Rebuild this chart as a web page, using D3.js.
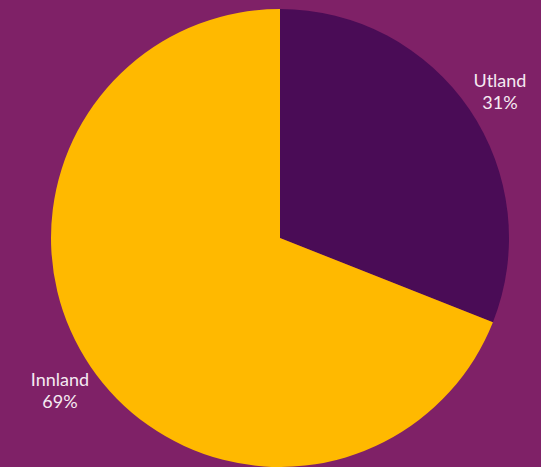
<!DOCTYPE html>
<html>
<head>
<meta charset="utf-8">
<script src="https://cdn.jsdelivr.net/npm/d3@7"></script>
<style>
  html, body { margin: 0; padding: 0; background: #7f2167; }
  svg { display: block; }
</style>
</head>
<body>
<svg id="chart" width="541" height="467"></svg>
<script>
const categories = ["Utland", "Innland"];
const shares = [31, 69];
const colors = ["#4a0c56", "#ffb900"];

const svg = d3.select("#chart");
const width = +svg.attr("width");
const height = +svg.attr("height");

svg.append("rect")
    .attr("width", width)
    .attr("height", height)
    .attr("fill", "#7f2167");

const cx = 280, cy = 238, radius = 229;
const data = categories.map((c, i) => ({ name: c, value: shares[i], color: colors[i] }));

const pie = d3.pie().sort(null).value(d => d.value);
const arc = d3.arc().innerRadius(0).outerRadius(radius);
const labelArc = d3.arc().innerRadius(266).outerRadius(266);

const g = svg.append("g").attr("transform", `translate(${cx},${cy})`);

const arcs = pie(data);

g.selectAll("path")
    .data(arcs)
    .enter()
    .append("path")
    .attr("d", arc)
    .attr("fill", d => d.data.color);

const labels = g.selectAll(".label")
    .data(arcs)
    .enter()
    .append("text")
    .attr("class", "label")
    .attr("transform", d => `translate(${labelArc.centroid(d)})`)
    .attr("text-anchor", "middle")
    .attr("font-family", "Lato, sans-serif")
    .attr("font-size", "18px")
    .attr("fill", "#f5eaf2");

labels.append("tspan")
    .attr("x", 0)
    .attr("dy", "-0.1em")
    .text(d => d.data.name);

labels.append("tspan")
    .attr("x", 0)
    .attr("dy", "1.25em")
    .text(d => d.data.value + "%");
</script>
</body>
</html>
